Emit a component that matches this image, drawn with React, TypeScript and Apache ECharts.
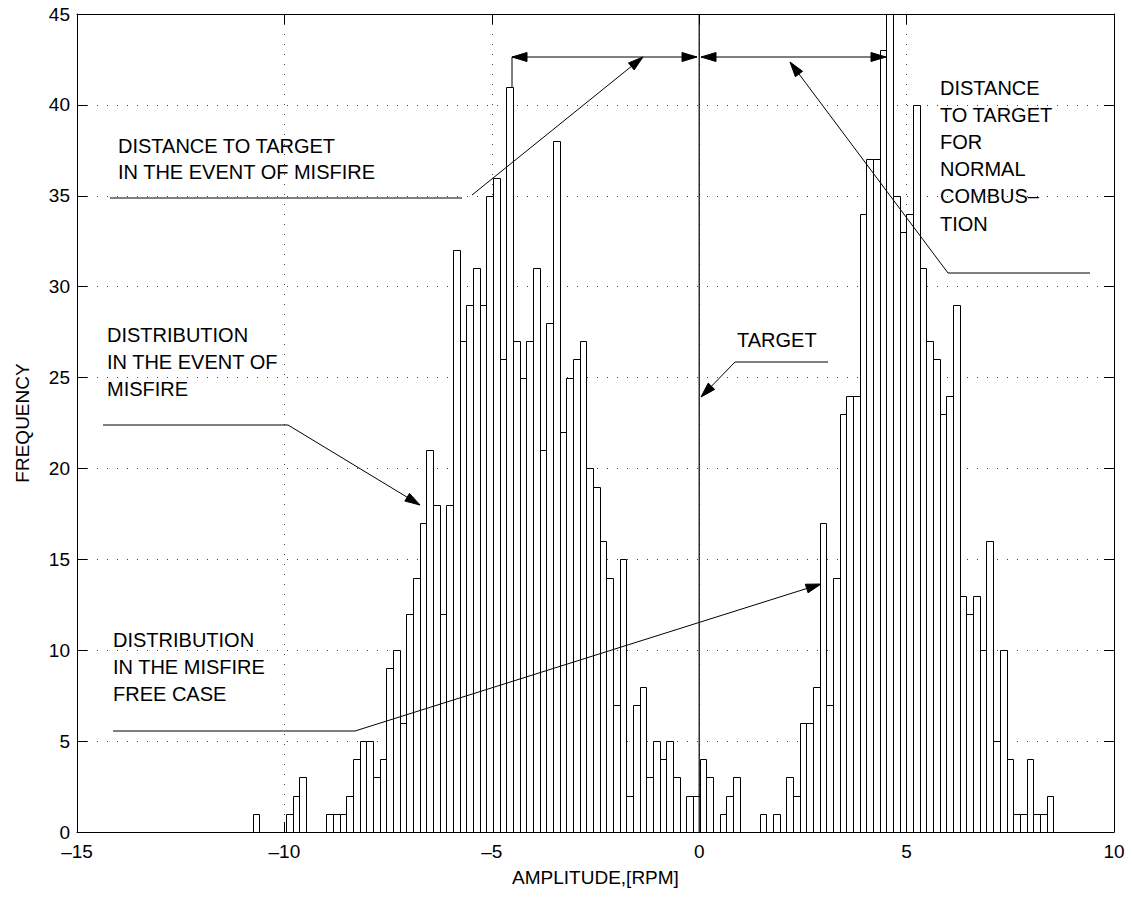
import React, { useEffect, useRef } from "react";
import * as echarts from "echarts";

// Axis ranges and ticks
const X_MIN = -15;
const X_MAX = 10;
const X_STEP = 5;
const Y_MIN = 0;
const Y_MAX = 45;
const Y_STEP = 5;

// Histogram bins (120 equal-width bins)
const BIN_START = -10.762;
const BIN_WIDTH = 0.1608;
const counts: number[] = [
  1, 0, 0, 0, 0, 1, 2, 3, 0, 0,
  0, 1, 1, 1, 2, 4, 5, 5, 3, 4,
  9, 10, 6, 12, 14, 17, 21, 18, 12, 18,
  32, 27, 29, 31, 29, 35, 36, 26, 41, 27,
  25, 27, 31, 21, 28, 38, 22, 25, 26, 27,
  20, 19, 16, 14, 7, 15, 2, 7, 8, 3,
  5, 4, 5, 3, 0, 2, 2, 4, 3, 0,
  1, 2, 3, 0, 0, 0, 1, 0, 1, 0,
  3, 2, 6, 6, 8, 17, 7, 14, 23, 24,
  24, 34, 37, 37, 43, 46, 35, 33, 34, 40,
  31, 27, 26, 23, 24, 29, 13, 12, 13, 10,
  16, 5, 10, 4, 1, 1, 4, 1, 1, 2,
];

const TARGET_X = 0;

const FONT = '"Liberation Sans", Arial, Helvetica, sans-serif';
const ANNOT_SIZE = 20;

type Pt = [number, number];

function arrowHead(tip: Pt, from: Pt, len = 15, half = 4.5) {
  const dx = tip[0] - from[0];
  const dy = tip[1] - from[1];
  const d = Math.hypot(dx, dy);
  const ux = dx / d;
  const uy = dy / d;
  const bx = tip[0] - ux * len;
  const by = tip[1] - uy * len;
  return {
    type: "polygon",
    silent: true,
    z: 100,
    shape: {
      points: [
        [tip[0], tip[1]],
        [bx - uy * half, by + ux * half],
        [bx + uy * half, by - ux * half],
      ],
    },
    style: { fill: "#000", stroke: "#000", lineWidth: 1 },
  };
}

function seg(a: Pt, b: Pt, w = 1) {
  return {
    type: "line",
    silent: true,
    z: 100,
    shape: { x1: a[0], y1: a[1], x2: b[0], y2: b[1] },
    style: { stroke: "#000", lineWidth: w },
  };
}

function txt(s: string, x: number, y: number) {
  return {
    type: "text",
    silent: true,
    z: 100,
    x,
    y,
    style: {
      text: s,
      fill: "#000",
      fontSize: ANNOT_SIZE,
      fontFamily: FONT,
      verticalAlign: "middle",
      align: "left",
    },
  };
}

export default function App() {
  const ref = useRef<HTMLDivElement>(null);

  useEffect(() => {
    document.body.style.margin = "0";
    if (!ref.current) return;
    const chart = echarts.init(ref.current, undefined, { renderer: "svg" });

    const histData = counts.map((c, i) => [
      BIN_START + i * BIN_WIDTH,
      BIN_START + (i + 1) * BIN_WIDTH,
      c,
    ]);

    const dash = (v: number) => String(v).replace("-", "\u2013");

    const graphics: any[] = [
      // Distance to target in the event of misfire
      txt("DISTANCE TO TARGET", 118, 146),
      txt("IN THE EVENT OF MISFIRE", 118, 172),
      seg([110, 198], [462, 198]),
      seg([472, 195], [643, 57]),
      arrowHead([643, 57], [472, 195]),
      // left double arrow
      seg([512, 57], [697, 57]),
      seg([512, 57], [512, 87]),
      arrowHead([512, 57], [697, 57]),
      arrowHead([697, 57], [512, 57]),
      // right double arrow
      seg([701, 57], [886, 57]),
      arrowHead([701, 57], [886, 57]),
      arrowHead([886, 57], [701, 57]),
      // Distance to target for normal combustion
      txt("DISTANCE", 940, 88),
      txt("TO TARGET", 940, 115),
      txt("FOR", 940, 142),
      txt("NORMAL", 940, 169),
      txt("COMBUS\u2013", 940, 196),
      txt("TION", 940, 224),
      seg([948, 273], [1090, 273]),
      seg([948, 273], [790, 62]),
      arrowHead([790, 62], [948, 273]),
      // Target
      txt("TARGET", 737, 340),
      seg([735, 362], [828, 362]),
      seg([735, 362], [701, 397]),
      arrowHead([701, 397], [735, 362]),
      // Distribution in the event of misfire
      txt("DISTRIBUTION", 107, 335),
      txt("IN THE EVENT OF", 107, 362),
      txt("MISFIRE", 107, 389),
      seg([103, 425], [288, 425]),
      seg([288, 425], [420, 505]),
      arrowHead([420, 505], [288, 425]),
      // Distribution in the misfire free case
      txt("DISTRIBUTION", 113, 640),
      txt("IN THE MISFIRE", 113, 667),
      txt("FREE CASE", 113, 694),
      seg([113, 731], [355, 731]),
      seg([355, 731], [821, 584]),
      arrowHead([821, 584], [355, 731]),
    ];

    const gridLine = { show: true, lineStyle: { color: "#444", width: 1, type: [1, 9] as any } };

    chart.setOption({
      animation: false,
      backgroundColor: "#fff",
      grid: { left: 77, top: 14, width: 1037, height: 818, containLabel: false },
      xAxis: [
        {
          type: "value",
          min: X_MIN,
          max: X_MAX,
          interval: X_STEP,
          position: "bottom",
          name: "AMPLITUDE,[RPM]",
          nameLocation: "middle",
          nameGap: 36,
          nameTextStyle: { color: "#000", fontSize: ANNOT_SIZE - 1, fontFamily: FONT },
          axisLine: { show: true, onZero: false, lineStyle: { color: "#000", width: 1 } },
          axisTick: { show: true, inside: true, length: 10, lineStyle: { color: "#000" } },
          axisLabel: { color: "#000", fontSize: 19, fontFamily: FONT, margin: 10, formatter: dash },
          splitLine: gridLine,
        },
        {
          type: "value",
          min: X_MIN,
          max: X_MAX,
          interval: X_STEP,
          position: "top",
          axisLine: { show: true, onZero: false, lineStyle: { color: "#000", width: 1 } },
          axisTick: { show: true, inside: true, length: 10, lineStyle: { color: "#000" } },
          axisLabel: { show: false },
          splitLine: { show: false },
        },
      ],
      yAxis: [
        {
          type: "value",
          min: Y_MIN,
          max: Y_MAX,
          interval: Y_STEP,
          position: "left",
          name: "FREQUENCY",
          nameLocation: "middle",
          nameGap: 45,
          nameRotate: 90,
          nameTextStyle: { color: "#000", fontSize: ANNOT_SIZE - 1, fontFamily: FONT },
          axisLine: { show: true, onZero: false, lineStyle: { color: "#000", width: 1 } },
          axisTick: { show: true, inside: true, length: 10, lineStyle: { color: "#000" } },
          axisLabel: { color: "#000", fontSize: 19, fontFamily: FONT, margin: 7 },
          splitLine: gridLine,
        },
        {
          type: "value",
          min: Y_MIN,
          max: Y_MAX,
          interval: Y_STEP,
          position: "right",
          axisLine: { show: true, onZero: false, lineStyle: { color: "#000", width: 1 } },
          axisTick: { show: true, inside: true, length: 10, lineStyle: { color: "#000" } },
          axisLabel: { show: false },
          splitLine: { show: false },
        },
      ],
      series: [
        {
          type: "custom",
          name: "histogram",
          xAxisIndex: 0,
          yAxisIndex: 0,
          data: histData,
          clip: true,
          renderItem: (params: any, api: any) => {
            const x0 = api.value(0);
            const x1 = api.value(1);
            const c = Math.min(api.value(2), Y_MAX);
            if (c <= 0) return null;
            const p0 = api.coord([x0, 0]);
            const p1 = api.coord([x1, c]);
            const left = Math.round(p0[0]) + 0.5;
            const right = Math.round(p1[0]) + 0.5;
            const top = Math.round(p1[1]) + 0.5;
            const bottom = Math.round(p0[1]) + 0.5;
            return {
              type: "rect",
              shape: { x: left, y: top, width: right - left, height: bottom - top },
              style: { fill: "#fff", stroke: "#000", lineWidth: 1 },
            };
          },
        },
        {
          type: "line",
          name: "target",
          xAxisIndex: 0,
          yAxisIndex: 0,
          data: [
            [TARGET_X, Y_MIN],
            [TARGET_X, Y_MAX],
          ],
          symbol: "none",
          lineStyle: { color: "#000", width: 1.2 },
          z: 5,
        },
      ],
      graphic: graphics,
    });

    return () => {
      chart.dispose();
    };
  }, []);

  return <div ref={ref} style={{ width: 1132, height: 898 }} />;
}
